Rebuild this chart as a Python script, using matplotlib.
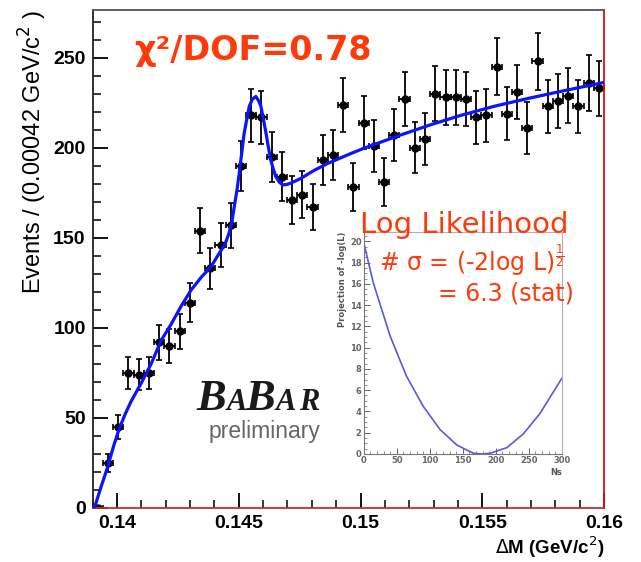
import numpy as np
import matplotlib.pyplot as plt
from matplotlib.ticker import MultipleLocator

# histogram: 50 bins of 0.00042 GeV/c^2 starting at 0.139
bin_lo = 0.139
bin_w = 0.00042
counts = [0, 25, 45, 75, 74, 75, 92, 90, 98, 114,
          154, 133, 146, 157, 190, 218, 217, 195, 184, 171,
          174, 167, 193, 196, 224, 178, 214, 201, 181, 207,
          227, 200, 205, 230, 228, 228, 227, 217, 218, 245,
          219, 231, 211, 248, 223, 226, 229, 223, 236, 233]
errs = [0, 5.0, 6.7, 8.7, 8.6, 8.7, 9.6, 9.5, 9.9, 10.7,
        12.4, 11.5, 12.1, 12.5, 13.8, 14.8, 14.7, 14.0, 13.6, 13.1,
        13.2, 12.9, 13.9, 14.0, 15.0, 13.3, 14.6, 14.2, 13.5, 14.4,
        15.1, 14.1, 14.3, 15.2, 15.1, 15.1, 15.1, 14.7, 14.8, 15.7,
        14.8, 15.2, 14.5, 15.7, 14.9, 15.0, 15.1, 14.9, 15.4, 15.3]

# fit curve
fit_x = [0.13907, 0.13935, 0.13962, 0.13985, 0.14009, 0.14033, 0.14057, 0.14098,
         0.14140, 0.14181, 0.14222, 0.14263, 0.14304, 0.14345, 0.14386, 0.14427,
         0.14445, 0.14461, 0.14472, 0.14481, 0.14492, 0.14502, 0.14512, 0.14522,
         0.14533, 0.14543, 0.14556, 0.14570, 0.14582, 0.14591, 0.14601, 0.14612,
         0.14622, 0.14632, 0.14642, 0.14652, 0.14666, 0.14680, 0.14697, 0.14714,
         0.14755, 0.14810, 0.14865, 0.14960, 0.15015, 0.15152, 0.15288, 0.15412,
         0.15548, 0.15685, 0.15822, 0.16000]
fit_y = [0, 12, 23, 34, 44, 52, 59, 69,
         80, 93, 102, 112, 121, 128, 134, 143,
         147, 153, 159, 167, 176, 186, 197, 208,
         216, 223, 227, 228.5, 226, 223, 216, 208,
         200, 193, 188, 184, 181, 179.4, 179.6, 180.4,
         183, 187.5, 191.3, 196.8, 199.8, 206.5, 212.8, 218,
         223, 227.3, 231.3, 236.3]

# inset: -log(L) scan vs Ns
ns = [0, 14.5, 40, 56, 65, 90, 115.6, 141, 166, 179, 191, 217, 242, 267, 300]
nll = [19.9, 16.1, 11.1, 8.65, 7.3, 4.5, 2.3, 0.85, 0.07, 0, 0.06, 0.6, 1.9, 3.8, 7.1]

red = '#ff3a0a'
centers = bin_lo + bin_w * (np.arange(len(counts)) + 0.5)

fig = plt.figure(figsize=(6.41, 5.62), dpi=100)
ax = fig.add_axes([0.1446, 0.0961, 0.7977, 0.8861])

ax.errorbar(centers, counts, yerr=errs, xerr=bin_w / 2, fmt='o', color='black',
            ms=5, elinewidth=1.3, capsize=2.2, capthick=1.2, zorder=2)
ax.plot(fit_x, fit_y, color='#0a14ff', lw=2.3, zorder=3)

ax.set_xlim(0.139, 0.16)
ax.set_ylim(0, 276.5)
ax.set_xticks([0.14, 0.145, 0.15, 0.155, 0.16])
ax.set_xticklabels(['0.14', '0.145', '0.15', '0.155', '0.16'])
ax.set_yticks([0, 50, 100, 150, 200, 250])
ax.xaxis.set_minor_locator(MultipleLocator(0.001))
ax.yaxis.set_minor_locator(MultipleLocator(10))
ax.tick_params(which='both', direction='in', top=False, right=False, colors='black')
ax.tick_params(which='major', length=11, width=1.3, labelsize=14, pad=5)
ax.tick_params(which='minor', length=6, width=1.1)
for lab in ax.get_xticklabels() + ax.get_yticklabels():
    lab.set_fontfamily('Liberation Sans')
    lab.set_fontweight('bold')

ax.spines['top'].set_color('#555555')
ax.spines['left'].set_color('#222222')
ax.spines['right'].set_color('#e01010')
ax.spines['bottom'].set_color('#c03030')
for s in ax.spines.values():
    s.set_linewidth(1.3)

ax.set_xlabel(r'$\Delta$M (GeV/c$^2$)', loc='right', fontsize=13.5, family='Liberation Sans',
              fontweight='bold', labelpad=2)
ax.set_ylabel(r'Events / (0.00042 GeV/c$^2$ )', loc='top', fontsize=17,
              family='Liberation Sans', labelpad=3)

# BaBar logo
logo = dict(family='Liberation Serif', style='italic', fontweight='bold', color='#1a1a1a')
fig.text(0.306, 0.2705, 'B', fontsize=32, **logo)
fig.text(0.354, 0.2705, 'A', fontsize=22, **logo)
fig.text(0.383, 0.2705, 'B', fontsize=32, **logo)
fig.text(0.430, 0.2705, 'A', fontsize=22, **logo)
fig.text(0.466, 0.2705, 'R', fontsize=22, **logo)
fig.text(0.326, 0.2206, 'preliminary', fontsize=16.5, color='#666666', family='Liberation Sans')

# inset with likelihood scan
ins = fig.add_axes([0.5674, 0.1922, 0.3089, 0.3955])
ins.plot(ns, nll, color='#5a5ad8', lw=1.2)
ins.set_xlim(0, 300)
ins.set_ylim(0, 20.9)
ins.set_xticks(range(0, 301, 50))
ins.set_yticks(range(0, 21, 2))
ins.xaxis.set_minor_locator(MultipleLocator(10))
ins.yaxis.set_minor_locator(MultipleLocator(0.5))
ins.tick_params(which='both', direction='in', top=False, right=False, colors='#666666',
                labelsize=6, pad=1.5)
ins.tick_params(which='major', length=4, width=0.7)
ins.tick_params(which='minor', length=2, width=0.5)
for lab in ins.get_xticklabels() + ins.get_yticklabels():
    lab.set_fontweight('bold')
for s in ['top', 'right']:
    ins.spines[s].set_color('#b0b0b0')
for s in ['left', 'bottom']:
    ins.spines[s].set_color('#777777')
ins.set_xlabel('Ns', loc='right', fontsize=6, color='#555555', fontweight='bold', labelpad=2)
ins.set_ylabel('Projection of -log(L)', loc='top', fontsize=6, color='#555555',
               fontweight='bold', labelpad=2)

# annotations
fig.text(0.21, 0.893, 'χ²/DOF=0.78', fontsize=24, fontweight='bold', color=red,
         family='DejaVu Sans')
fig.text(0.561, 0.585, 'Log Likelihood', fontsize=21, color=red, family='DejaVu Sans')
fig.text(0.591, 0.518, r'# σ = (-2log L)$^{\frac{1}{2}}$', fontsize=17, color=red,
         family='DejaVu Sans')
fig.text(0.683, 0.465, '= 6.3 (stat)', fontsize=17, color=red, family='DejaVu Sans')

fig.savefig('out.png', dpi=100)
